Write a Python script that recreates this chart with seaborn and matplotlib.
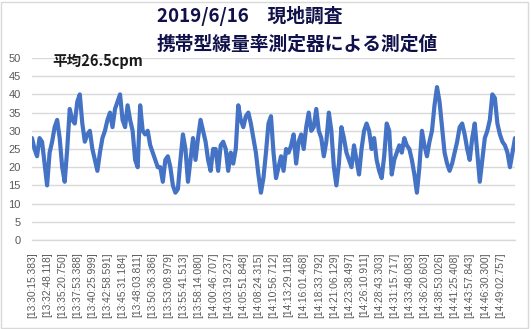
import matplotlib
matplotlib.use("Agg")
import matplotlib.pyplot as plt
import seaborn as sns
import pandas as pd
import numpy as np
from matplotlib.patches import Rectangle

# ---- data (cpm), 6 samples per labelled interval ----
values = [
    28, 25, 23, 28, 27, 21, 15, 24, 27, 31, 33, 28, 20, 16, 25, 36, 33, 32, 38, 40,
    32, 27, 29, 30, 25, 22, 19, 24, 28, 30, 33, 35, 31, 36, 38, 40, 33, 31, 37, 33,
    30, 22, 20, 37, 30, 29, 30, 26, 24, 22, 20, 20, 16, 22, 23, 20, 15, 13, 14, 22,
    29, 25, 16, 22, 28, 22, 28, 33, 30, 27, 22, 19, 25, 25, 19, 26, 27, 25, 19, 24,
    21, 25, 37, 33, 31, 34, 35, 32, 28, 24, 18, 13, 17, 24, 32, 34, 24, 17, 20, 23,
    19, 25, 24, 26, 29, 21, 27, 29, 25, 31, 35, 30, 31, 36, 30, 28, 23, 27, 35, 30,
    20, 15, 21, 31, 28, 24, 22, 20, 26, 22, 18, 25, 30, 32, 30, 25, 28, 22, 19, 17,
    23, 32, 30, 18, 22, 24, 26, 24, 28, 26, 25, 22, 18, 13, 20, 30, 26, 23, 27, 30,
    37, 42, 38, 31, 24, 21, 19, 21, 24, 27, 31, 32, 29, 25, 22, 28, 32, 24, 16, 22,
    28, 30, 33, 40, 39, 32, 29, 27, 26, 24, 20, 24, 28,
]
tick_labels = [
    "[13:30:15.383]", "[13:32:48.118]", "[13:35:20.750]", "[13:37:53.388]",
    "[13:40:25.999]", "[13:42:58.591]", "[13:45:31.184]", "[13:48:03.811]",
    "[13:50:36.386]", "[13:53:08.979]", "[13:55:41.513]", "[13:58:14.080]",
    "[14:00:46.707]", "[14:03:19.237]", "[14:05:51.848]", "[14:08:24.315]",
    "[14:10:56.712]", "[14:13:29.118]", "[14:16:01.468]", "[14:18:33.792]",
    "[14:21:06.129]", "[14:23:38.497]", "[14:26:10.911]", "[14:28:43.303]",
    "[14:31:15.717]", "[14:33:48.083]", "[14:36:20.603]", "[14:38:53.026]",
    "[14:41:25.408]", "[14:43:57.843]", "[14:46:30.300]", "[14:49:02.757]",
]
title_line1 = "2019/6/16\u3000現地調査"
title_line2 = "携帯型線量率測定器による測定値"
note = "平均26.5cpm"
y_ticks = [0, 5, 10, 15, 20, 25, 30, 35, 40, 45, 50]

SAMPLES_PER_LABEL = 6
df = pd.DataFrame({"idx": np.arange(len(values)), "cpm": values})

sns.set_theme(style="white")
plt.rcParams["font.family"] = ["Noto Sans CJK JP", "DejaVu Sans"]

W, H = 531, 329
fig = plt.figure(figsize=(W / 100, H / 100), dpi=100)
ax = fig.add_axes([32 / W, 1 - 240 / H, (515 - 32) / W, (240 - 58) / H])

sns.lineplot(data=df, x="idx", y="cpm", ax=ax, color="#4472C4", linewidth=3.0)

ax.set_xlim(0, len(values) - 1)
ax.set_ylim(0, 50)
ax.set_yticks(y_ticks)
ax.set_yticklabels([str(v) for v in y_ticks], fontsize=8, color="#595959",
                   family=["Liberation Sans", "DejaVu Sans"])
ax.set_xticks([i * SAMPLES_PER_LABEL for i in range(len(tick_labels))])
ax.set_xticklabels(tick_labels, rotation=90, fontsize=7.4, color="#595959",
                   family=["Liberation Sans", "DejaVu Sans"])
ax.tick_params(axis="x", length=0, pad=9)
ax.tick_params(axis="y", length=0, pad=8)
ax.set_xlabel("")
ax.set_ylabel("")
ax.grid(axis="y", color="#D9D9D9", linewidth=1.0)
ax.set_axisbelow(True)
for s in ["top", "right", "left"]:
    ax.spines[s].set_visible(False)
ax.spines["bottom"].set_color("#D9D9D9")
ax.spines["bottom"].set_linewidth(1.0)

# titles and annotation
fig.text(157 / W, 1 - 16 / H, title_line1, ha="left", va="center",
         fontsize=13.5, fontweight="bold", color="#10104A")
fig.text(157 / W, 1 - 44 / H, title_line2, ha="left", va="center",
         fontsize=13.5, fontweight="bold", color="#10104A")
fig.text(52 / W, 1 - 61 / H, note, ha="left", va="center",
         fontsize=10.5, fontweight="bold", color="#1A1A1A")

# chart border
fig.patches.append(Rectangle((1 / W, 1 / H), 1 - 4 / W, 1 - 3 / H,
                             transform=fig.transFigure, fill=False,
                             edgecolor="#D9D9D9", linewidth=1.0))

fig.savefig("out.png", dpi=100)
